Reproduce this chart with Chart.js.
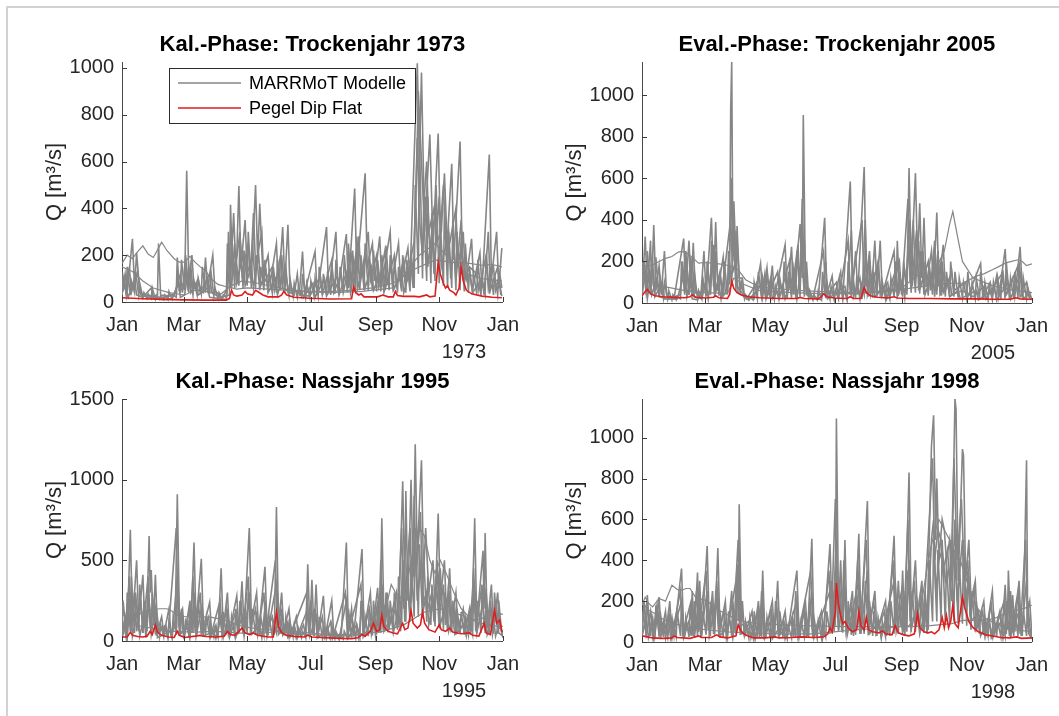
<!DOCTYPE html>
<html>
<head>
<meta charset="utf-8">
<script src="https://cdn.jsdelivr.net/npm/chart.js@4.4.1/dist/chart.umd.min.js"></script>
<style>
  html, body { margin: 0; padding: 0; background: #fff; }
  #figure { position: relative; width: 1059px; height: 716px; overflow: hidden; background: #fff; }
  #frame { position: absolute; left: 6px; top: 6px; width: 1200px; height: 900px; border: 2px solid #d2d2d2; }
  canvas { position: absolute; }
</style>
</head>
<body>
<div id="figure">
  <div id="frame"></div>
  <canvas id="kal1973" width="530" height="360" style="left:0;top:0"></canvas>
  <canvas id="eval2005" width="529" height="360" style="left:530px;top:0"></canvas>
  <canvas id="kal1995" width="530" height="356" style="left:0;top:360px"></canvas>
  <canvas id="eval1998" width="529" height="356" style="left:530px;top:360px"></canvas>
</div>
<script>
// Tagesabfluss je Jahr: [Tag des Jahres, Q in m³/s]
const monthDays = [0, 59, 120, 181, 243, 304, 365];
const monthLabels = ["Jan", "Mar", "May", "Jul", "Sep", "Nov", "Jan"];

// ---- Kal.-Phase 1973 ----
const kal1973_pegel = [[0,18],[20,14],[40,11],[60,9],[80,8],[100,8],[103,15],[105,50],[107,30],[110,25],[115,30],[118,45],[120,35],[125,30],[128,50],[130,45],[135,30],[140,22],[150,22],[153,30],[155,45],[158,30],[165,20],[180,16],[200,13],[220,14],[222,65],[224,40],[227,30],[229,35],[232,22],[245,22],[250,30],[255,22],[260,22],[262,45],[264,28],[270,24],[280,24],[285,22],[292,30],[295,22],[300,25],[303,170],[305,120],[308,80],[310,60],[312,70],[314,50],[318,40],[320,30],[323,60],[325,150],[327,90],[330,50],[335,35],[345,25],[355,20],[364,18]];
const kal1973_slow = [[0,165],[5,200],[10,185],[15,215],[20,240],[25,205],[30,190],[35,230],[38,255],[43,220],[50,185],[55,170],[60,170],[65,195],[70,170],[75,150],[80,135],[85,100],[92,75],[100,65],[110,55],[120,60],[140,55],[160,50],[180,45],[200,45],[220,50],[240,60],[260,80],[280,140],[300,180],[315,170],[333,165],[345,157],[355,160],[364,150]];
const kal1973_mid = [[0,150],[10,130],[20,90],[30,60],[45,40],[60,30],[70,50],[80,45],[95,35],[105,70],[115,90],[130,80],[150,60],[170,45],[200,40],[230,45],[260,60],[285,200],[300,250],[315,180],[330,120],[345,100],[364,90]];
const kal1973_a = [[0,30],[3,120],[5,40],[10,270],[12,60],[14,210],[17,40],[22,30],[30,25],[34,30],[35,250],[37,30],[45,25],[52,40],[53,190],[55,50],[60,60],[62,560],[64,90],[67,200],[69,60],[78,40],[80,190],[82,60],[87,200],[89,50],[95,20],[103,30],[104,415],[106,120],[110,200],[112,495],[114,150],[118,350],[120,120],[125,200],[128,500],[130,180],[132,420],[135,120],[140,200],[142,80],[148,250],[150,60],[154,320],[156,80],[159,330],[161,60],[170,40],[173,215],[175,40],[185,215],[187,30],[196,320],[198,40],[205,300],[207,50],[215,290],[217,60],[223,485],[225,120],[233,550],[235,150],[240,250],[242,90],[247,280],[249,80],[257,300],[259,90],[265,250],[267,80],[274,230],[276,100],[283,1020],[285,600],[287,980],[290,300],[295,715],[298,250],[303,720],[305,300],[308,500],[311,200],[316,590],[318,180],[324,685],[326,200],[330,100],[335,270],[337,80],[343,210],[345,60],[352,630],[354,100],[359,300],[361,60],[364,230]];
const kal1973_b = [[0,60],[2,100],[4,30],[7,150],[9,40],[15,130],[18,30],[25,20],[40,20],[50,30],[56,120],[58,40],[61,200],[63,70],[66,150],[68,50],[73,100],[75,40],[84,120],[86,40],[96,15],[101,60],[102,300],[104,100],[107,380],[109,150],[113,300],[115,120],[121,250],[123,100],[126,380],[128,150],[134,300],[136,80],[144,150],[146,50],[152,200],[154,60],[165,30],[168,120],[170,30],[180,25],[190,110],[192,30],[201,180],[203,40],[210,120],[212,40],[220,200],[222,60],[227,280],[229,100],[236,300],[238,90],[244,200],[246,70],[252,220],[254,80],[261,200],[263,70],[270,180],[272,80],[280,260],[282,500],[284,900],[286,700],[289,400],[292,600],[294,300],[299,400],[301,250],[306,300],[309,550],[312,200],[320,400],[322,150],[327,300],[329,100],[333,150],[340,120],[342,50],[349,200],[351,60],[356,150],[358,50],[362,120],[364,60]];
const kal1973_c = [[0,40],[3,70],[6,20],[12,100],[14,30],[20,20],[28,60],[30,15],[40,10],[48,15],[54,80],[56,20],[60,30],[64,150],[66,40],[71,80],[73,30],[82,60],[84,20],[100,10],[103,150],[105,60],[108,250],[110,80],[116,200],[118,70],[124,150],[126,60],[131,200],[133,70],[138,130],[140,40],[147,100],[149,30],[157,150],[159,40],[172,50],[174,20],[183,80],[185,20],[194,100],[196,25],[206,110],[208,30],[217,150],[219,40],[224,200],[226,60],[231,150],[233,60],[239,150],[241,50],[249,140],[251,40],[258,150],[260,50],[268,130],[270,40],[277,150],[279,60],[281,400],[283,700],[285,350],[288,200],[291,450],[293,150],[297,300],[299,120],[304,450],[306,150],[313,300],[315,100],[318,250],[320,90],[325,350],[327,100],[333,120],[336,40],[345,100],[347,30],[351,300],[353,50],[360,150],[363,30]];
const kal1973_d = [[0,30],[1,110],[4,40],[5,150],[8,30],[9,90],[12,40],[13,130],[16,30],[17,80],[20,20],[21,40],[24,15],[25,35],[28,15],[29,60],[32,12],[33,30],[36,12],[37,25],[40,10],[41,30],[44,10],[45,45],[48,12],[49,30],[52,20],[53,120],[56,40],[57,180],[60,50],[61,150],[64,40],[65,130],[68,30],[69,90],[72,30],[73,100],[76,35],[77,150],[80,40],[81,120],[84,35],[85,140],[88,25],[89,60],[92,15],[93,40],[96,12],[97,30],[100,20],[101,250],[104,60],[105,300],[108,60],[109,200],[112,70],[113,280],[116,60],[117,220],[120,70],[121,300],[124,60],[125,250],[128,60],[129,200],[132,50],[133,150],[136,50],[137,180],[140,40],[141,120],[144,40],[145,150],[148,40],[149,180],[152,50],[153,200],[156,40],[157,120],[160,30],[161,100],[164,25],[165,80],[168,20],[169,60],[172,25],[173,120],[176,20],[177,80],[180,20],[181,90],[184,25],[185,100],[188,25],[189,150],[192,30],[193,120],[196,30],[197,130],[200,30],[201,150],[204,35],[205,180],[208,30],[209,150],[212,40],[213,200],[216,40],[217,250],[220,50],[221,220],[224,50],[225,280],[228,50],[229,200],[232,50],[233,250],[236,50],[237,200],[240,50],[241,220],[244,45],[245,180],[248,45],[249,200],[252,50],[253,240],[256,50],[257,200],[260,45],[261,180],[264,40],[265,150],[268,45],[269,200],[272,40],[273,180],[276,45],[277,220],[280,60],[281,500],[284,120],[285,700],[288,100],[289,400],[292,90],[293,450],[296,80],[297,380],[300,90],[301,500],[304,80],[305,350],[308,70],[309,400],[312,60],[313,300],[316,60],[317,350],[320,50],[321,300],[324,50],[325,280],[328,45],[329,250],[332,40],[333,150],[336,35],[337,120],[340,35],[341,180],[344,30],[345,100],[348,35],[349,200],[352,35],[353,150],[356,30],[357,120],[360,30],[361,100],[364,25]];

// ---- Eval.-Phase 2005 ----
const eval2005_pegel = [[0,35],[3,55],[5,65],[8,45],[12,35],[20,30],[30,27],[40,25],[45,30],[47,40],[50,28],[60,24],[67,28],[69,35],[72,25],[80,22],[82,40],[84,105],[86,70],[89,50],[93,38],[100,30],[110,25],[130,22],[145,22],[148,27],[152,22],[165,20],[168,30],[170,45],[173,30],[180,24],[192,22],[195,30],[198,22],[205,22],[208,75],[210,50],[214,35],[220,28],[230,24],[236,30],[239,24],[250,22],[270,22],[290,20],[310,20],[330,18],[345,18],[350,25],[354,20],[365,18]];
const eval2005_slow = [[0,190],[4,176],[10,184],[16,200],[22,215],[28,224],[34,245],[37,248],[42,240],[48,215],[53,192],[60,195],[65,192],[72,188],[78,184],[84,175],[90,160],[97,112],[103,95],[109,80],[120,72],[135,65],[150,60],[170,55],[190,50],[210,55],[230,60],[250,70],[270,85],[290,95],[300,96],[306,110],[312,128],[320,140],[328,160],[334,175],[340,192],[346,200],[352,208],[356,200],[360,180],[365,188]];
const eval2005_mid = [[0,120],[8,100],[20,80],[40,60],[60,50],[80,45],[86,120],[95,90],[110,60],[140,50],[170,45],[200,45],[240,60],[255,120],[262,150],[270,110],[283,250],[288,380],[291,440],[295,330],[300,200],[310,120],[330,80],[350,60],[365,50]];
const eval2005_a = [[0,40],[3,320],[5,60],[8,300],[9,80],[11,375],[13,60],[16,180],[18,40],[21,250],[23,40],[30,20],[39,310],[41,60],[44,300],[46,70],[48,290],[50,50],[55,30],[58,250],[60,40],[65,410],[67,80],[69,390],[71,60],[76,220],[78,50],[82,100],[83,920],[84,1160],[85,300],[86,490],[88,200],[89,370],[91,120],[94,120],[96,30],[105,20],[111,190],[113,30],[117,170],[119,40],[122,180],[124,30],[134,280],[136,40],[140,270],[142,40],[148,380],[150,120],[151,905],[153,100],[154,200],[156,30],[165,20],[171,410],[173,40],[178,130],[180,30],[186,150],[188,30],[195,585],[197,60],[200,250],[202,40],[208,655],[210,80],[213,250],[215,60],[218,300],[220,60],[223,300],[225,40],[236,250],[238,50],[239,300],[241,60],[246,150],[248,60],[250,650],[252,150],[256,625],[258,200],[260,480],[262,120],[264,410],[266,80],[271,250],[273,80],[276,435],[278,80],[282,280],[284,60],[290,150],[292,60],[303,100],[305,30],[317,190],[319,30],[326,100],[328,30],[332,130],[334,30],[340,260],[342,50],[347,120],[349,30],[354,270],[356,60],[360,100],[362,30],[365,20]];
const eval2005_b = [[0,80],[2,200],[4,50],[7,150],[9,40],[14,120],[16,30],[25,20],[36,40],[38,200],[40,50],[42,180],[44,40],[47,220],[49,30],[56,20],[62,150],[64,40],[67,280],[69,60],[73,150],[75,30],[80,60],[82,250],[84,600],[85,200],[87,350],[89,80],[92,60],[98,20],[110,120],[112,30],[115,140],[117,30],[127,150],[129,30],[138,200],[140,40],[146,280],[148,60],[150,500],[152,80],[160,25],[170,250],[172,30],[182,100],[184,25],[193,300],[195,40],[206,400],[208,60],[212,200],[214,40],[221,200],[223,40],[230,100],[232,30],[241,200],[243,40],[249,500],[251,100],[254,400],[256,90],[259,300],[261,80],[268,200],[270,60],[274,300],[276,60],[280,200],[282,50],[288,120],[290,40],[300,60],[310,30],[320,80],[322,20],[338,150],[340,30],[352,180],[354,30],[358,60],[365,15]];
const eval2005_c = [[0,30],[3,150],[5,20],[10,200],[12,30],[19,100],[21,20],[33,20],[40,150],[42,30],[45,120],[47,20],[52,15],[60,100],[62,20],[66,200],[68,40],[72,90],[74,20],[83,400],[85,150],[88,200],[90,50],[100,15],[114,100],[116,20],[120,110],[122,20],[132,90],[134,20],[143,150],[145,20],[152,300],[154,40],[168,15],[172,200],[174,20],[190,80],[192,15],[196,350],[198,30],[204,120],[206,20],[209,400],[211,40],[216,150],[218,30],[227,80],[229,20],[237,150],[239,30],[244,100],[246,25],[251,400],[253,80],[257,350],[259,60],[263,250],[265,40],[272,150],[274,30],[277,250],[279,40],[286,100],[288,30],[296,60],[298,20],[313,60],[315,15],[330,70],[332,15],[343,100],[345,20],[355,150],[357,20],[363,50],[365,15]];
const eval2005_d = [[0,40],[1,200],[4,40],[5,250],[8,40],[9,180],[12,35],[13,220],[16,30],[17,120],[20,25],[21,100],[24,20],[25,60],[28,15],[29,40],[32,15],[33,30],[36,20],[37,200],[40,40],[41,250],[44,40],[45,220],[48,35],[49,150],[52,20],[53,60],[56,20],[57,120],[60,30],[61,200],[64,40],[65,300],[68,40],[69,250],[72,35],[73,150],[76,30],[77,200],[80,40],[81,250],[84,80],[85,400],[88,60],[89,300],[92,40],[93,100],[96,20],[97,40],[100,15],[101,30],[104,15],[105,100],[108,20],[109,150],[112,25],[113,120],[116,20],[117,150],[120,25],[121,130],[124,20],[125,80],[128,20],[129,120],[132,25],[133,200],[136,20],[137,150],[140,25],[141,200],[144,25],[145,250],[148,30],[149,300],[152,30],[153,150],[156,20],[157,60],[160,15],[161,40],[164,15],[165,60],[168,20],[169,150],[172,25],[173,100],[176,20],[177,80],[180,15],[181,60],[184,20],[185,120],[188,15],[189,60],[192,20],[193,200],[196,30],[197,150],[200,25],[201,120],[204,20],[205,100],[208,40],[209,250],[212,30],[213,200],[216,25],[217,150],[220,30],[221,200],[224,25],[225,100],[228,20],[229,80],[232,20],[233,120],[236,30],[237,200],[240,35],[241,150],[244,30],[245,200],[248,40],[249,300],[252,50],[253,250],[256,50],[257,300],[260,45],[261,250],[264,40],[265,200],[268,35],[269,180],[272,40],[273,220],[276,40],[277,250],[280,35],[281,200],[284,30],[285,150],[288,30],[289,200],[292,30],[293,150],[296,25],[297,120],[300,25],[301,100],[304,20],[305,150],[308,20],[309,100],[312,20],[313,120],[316,20],[317,150],[320,20],[321,100],[324,15],[325,80],[328,15],[329,100],[332,20],[333,120],[336,20],[337,150],[340,25],[341,200],[344,20],[345,120],[348,20],[349,150],[352,25],[353,200],[356,25],[357,120],[360,20],[361,80],[364,15]];

// ---- Kal.-Phase 1995 ----
const kal1995_pegel = [[0,25],[5,25],[8,55],[10,35],[15,28],[20,25],[24,30],[27,60],[29,40],[32,100],[34,55],[38,35],[45,25],[50,22],[53,60],[55,35],[60,22],[70,30],[75,35],[80,28],[90,25],[98,30],[101,60],[104,40],[108,35],[112,60],[115,80],[118,50],[122,40],[126,50],[130,35],[140,25],[145,25],[148,180],[150,90],[153,50],[158,35],[165,28],[175,25],[178,35],[182,25],[195,20],[210,16],[220,15],[226,20],[230,40],[233,30],[238,60],[241,110],[244,60],[247,70],[249,160],[251,90],[255,60],[260,50],[264,45],[269,110],[271,70],[274,80],[277,190],[279,110],[283,80],[286,100],[288,180],[290,110],[294,70],[300,55],[304,100],[306,70],[310,60],[314,80],[317,55],[325,45],[333,50],[336,35],[342,30],[347,110],[349,50],[353,40],[357,190],[359,110],[362,130],[364,60],[365,60]];
const kal1995_slow = [[0,160],[6,155],[12,150],[18,170],[24,190],[30,195],[36,200],[43,200],[48,185],[53,160],[60,152],[65,150],[75,150],[85,148],[91,140],[98,130],[104,118],[110,100],[118,87],[130,75],[150,65],[170,55],[190,45],[210,40],[230,45],[250,60],[270,100],[290,180],[305,200],[315,180],[325,160],[333,140],[340,130],[345,140],[349,150],[355,165],[362,170],[365,165]];
const kal1995_mid = [[0,110],[10,100],[20,90],[35,70],[50,60],[70,55],[90,60],[110,50],[130,45],[150,60],[160,50],[180,40],[200,35],[220,30],[235,50],[250,120],[258,350],[262,300],[270,250],[280,600],[285,700],[290,650],[295,500],[300,420],[305,500],[310,430],[318,300],[325,200],[335,130],[350,100],[365,90]];
const kal1995_a = [[0,50],[3,150],[5,40],[8,690],[10,100],[14,500],[16,120],[20,410],[22,80],[24,200],[26,650],[27,300],[28,440],[30,100],[32,410],[34,60],[38,150],[40,40],[45,200],[47,40],[51,100],[53,910],[55,150],[58,200],[60,40],[64,200],[66,50],[69,610],[71,100],[76,510],[78,80],[84,240],[86,40],[90,100],[92,30],[95,450],[97,60],[101,300],[103,50],[110,280],[112,60],[115,370],[117,80],[122,700],[124,120],[129,300],[131,60],[137,460],[139,70],[144,150],[146,40],[148,830],[150,100],[153,300],[155,60],[160,200],[162,40],[167,150],[169,30],[174,100],[176,30],[178,475],[180,80],[182,380],[184,60],[186,350],[188,50],[193,280],[195,40],[201,250],[203,30],[210,20],[215,610],[217,50],[220,200],[222,30],[230,570],[232,60],[238,300],[240,60],[245,330],[247,80],[249,760],[251,150],[254,300],[256,100],[263,300],[265,100],[269,990],[271,300],[272,930],[274,250],[277,1000],[279,400],[281,1220],[283,500],[285,840],[287,1120],[289,400],[291,700],[294,300],[298,500],[300,200],[303,790],[305,250],[309,500],[311,150],[314,450],[316,120],[320,300],[322,80],[327,200],[329,60],[333,200],[335,60],[338,760],[340,100],[346,560],[347,200],[348,670],[350,80],[354,350],[356,60],[360,300],[362,80],[365,50]];
const kal1995_b = [[0,30],[2,100],[4,20],[7,400],[9,60],[12,300],[14,60],[18,250],[20,50],[25,400],[27,80],[31,250],[33,40],[42,100],[44,20],[52,700],[54,100],[57,150],[59,30],[63,120],[65,30],[68,400],[70,60],[75,300],[77,50],[83,150],[85,30],[94,250],[96,40],[100,200],[102,40],[109,180],[111,40],[114,250],[116,50],[121,400],[123,70],[128,200],[130,40],[136,300],[138,50],[147,500],[149,80],[152,200],[154,40],[159,120],[161,30],[177,300],[179,50],[181,250],[183,40],[185,200],[187,30],[192,150],[194,20],[200,120],[202,20],[214,300],[216,30],[229,350],[231,40],[237,200],[239,40],[244,200],[246,50],[248,500],[250,100],[253,200],[255,70],[262,200],[264,70],[268,700],[270,200],[276,700],[278,300],[280,900],[282,400],[286,800],[288,300],[293,200],[297,300],[299,120],[302,500],[304,150],[308,350],[310,100],[313,300],[315,80],[319,200],[321,50],[332,150],[334,40],[337,450],[339,60],[345,350],[347,100],[353,200],[355,40],[359,200],[361,50],[365,30]];
const kal1995_c = [[0,20],[3,80],[5,15],[8,300],[10,30],[15,200],[17,30],[21,150],[23,20],[26,250],[28,40],[32,200],[34,20],[46,60],[48,15],[53,400],[55,40],[63,80],[65,15],[69,250],[71,30],[76,200],[78,30],[88,60],[90,15],[95,150],[97,20],[101,120],[103,20],[107,100],[109,20],[115,150],[117,30],[122,300],[124,40],[132,100],[134,20],[137,200],[139,30],[148,350],[150,40],[157,100],[159,20],[165,60],[167,15],[178,200],[180,30],[186,150],[188,20],[197,80],[199,15],[206,40],[208,10],[215,250],[217,20],[225,100],[227,15],[230,250],[232,30],[241,150],[243,30],[249,350],[251,60],[258,150],[260,50],[265,200],[267,60],[269,500],[271,120],[274,400],[276,150],[281,600],[283,250],[287,500],[289,200],[292,300],[294,100],[303,400],[305,100],[311,250],[313,60],[317,150],[319,40],[328,100],[330,30],[338,350],[340,50],[348,300],[350,40],[356,150],[358,30],[362,120],[365,20]];
const kal1995_d = [[0,40],[1,250],[4,50],[5,300],[8,60],[9,400],[12,50],[13,300],[16,60],[17,350],[20,50],[21,250],[24,60],[25,350],[28,50],[29,300],[32,40],[33,200],[36,30],[37,100],[40,25],[41,80],[44,25],[45,120],[48,30],[49,150],[52,40],[53,400],[56,40],[57,200],[60,30],[61,120],[64,40],[65,250],[68,50],[69,300],[72,40],[73,250],[76,40],[77,200],[80,35],[81,150],[84,30],[85,100],[88,25],[89,80],[92,30],[93,200],[96,35],[97,180],[100,40],[101,200],[104,35],[105,150],[108,40],[109,200],[112,45],[113,250],[116,45],[117,200],[120,50],[121,300],[124,45],[125,200],[128,40],[129,180],[132,35],[133,150],[136,40],[137,250],[140,35],[141,150],[144,30],[145,120],[148,50],[149,300],[152,45],[153,200],[156,35],[157,150],[160,30],[161,120],[164,25],[165,100],[168,25],[169,80],[172,20],[173,60],[176,25],[177,200],[180,30],[181,250],[184,30],[185,200],[188,25],[189,150],[192,20],[193,100],[196,20],[197,80],[200,15],[201,100],[204,15],[205,60],[208,12],[209,40],[212,12],[213,60],[216,20],[217,200],[220,20],[221,120],[224,20],[225,100],[228,25],[229,250],[232,30],[233,150],[236,30],[237,200],[240,35],[241,250],[244,40],[245,250],[248,50],[249,350],[252,60],[253,300],[256,70],[257,250],[260,70],[261,300],[264,80],[265,400],[268,100],[269,500],[272,120],[273,450],[276,120],[277,500],[280,150],[281,700],[284,150],[285,600],[288,140],[289,550],[292,120],[293,400],[296,100],[297,350],[300,90],[301,400],[304,80],[305,450],[308,70],[309,300],[312,60],[313,350],[316,55],[317,250],[320,50],[321,200],[324,45],[325,180],[328,40],[329,150],[332,40],[333,150],[336,45],[337,300],[340,45],[341,250],[344,50],[345,300],[348,50],[349,300],[352,45],[353,250],[356,45],[357,300],[360,45],[361,250],[364,40]];

// ---- Eval.-Phase 1998 ----
const eval1998_pegel = [[0,30],[5,25],[10,20],[20,18],[28,20],[30,30],[33,22],[45,18],[53,30],[56,22],[65,22],[70,35],[73,25],[80,20],[88,30],[90,85],[92,60],[95,40],[100,28],[105,20],[115,20],[125,25],[128,20],[140,22],[150,25],[160,22],[170,25],[174,40],[176,70],[178,50],[181,150],[182,290],[184,180],[186,130],[188,90],[190,100],[193,70],[197,50],[201,60],[203,150],[205,80],[208,60],[210,120],[212,60],[216,50],[222,45],[225,55],[228,40],[234,35],[237,80],[240,45],[245,35],[250,30],[255,40],[258,140],[260,70],[264,50],[268,45],[271,50],[274,40],[278,60],[281,120],[283,70],[285,130],[287,70],[289,100],[291,180],[293,90],[296,70],[300,220],[302,170],[306,100],[310,70],[315,50],[322,35],[330,28],[338,20],[340,22],[343,20],[351,25],[355,18],[365,20]];
const eval1998_slow = [[0,180],[3,220],[6,190],[10,172],[16,213],[22,200],[28,278],[34,254],[38,255],[41,262],[45,262],[50,220],[55,210],[59,205],[66,180],[72,155],[78,140],[84,123],[90,110],[97,98],[110,90],[130,85],[150,80],[170,78],[190,75],[210,75],[230,75],[250,75],[270,80],[290,90],[300,106],[320,106],[330,115],[340,140],[350,155],[358,165],[365,180]];
const eval1998_mid = [[0,200],[5,160],[12,140],[20,110],[30,90],[45,70],[60,60],[80,50],[100,45],[130,40],[160,40],[180,50],[200,60],[230,70],[250,80],[262,200],[268,400],[272,500],[278,600],[283,550],[288,500],[292,450],[298,400],[304,300],[310,200],[320,120],[335,80],[350,60],[365,50]];
const eval1998_a = [[0,30],[3,100],[5,230],[7,50],[10,120],[12,30],[16,220],[18,40],[22,150],[24,30],[28,120],[30,30],[37,360],[39,50],[44,100],[46,30],[47,250],[49,40],[52,340],[53,80],[54,300],[56,40],[61,470],[63,80],[66,250],[68,50],[71,460],[73,60],[78,200],[80,30],[84,250],[86,50],[89,380],[90,100],[91,675],[93,100],[94,200],[96,30],[103,150],[105,30],[109,200],[111,30],[113,350],[115,40],[122,200],[124,30],[127,300],[129,40],[134,150],[136,30],[145,350],[147,40],[153,200],[155,30],[159,505],[161,40],[168,150],[170,30],[176,480],[178,100],[180,250],[181,80],[182,1095],[184,150],[186,400],[188,80],[190,500],[192,60],[197,250],[199,50],[203,530],[205,80],[211,690],[213,70],[218,250],[220,50],[228,200],[230,40],[236,520],[238,100],[240,300],[242,80],[244,350],[246,60],[250,830],[252,150],[256,400],[258,120],[262,300],[264,80],[265,250],[267,100],[271,960],[273,1110],[275,500],[276,800],[278,400],[281,600],[283,550],[285,400],[288,500],[290,300],[293,1190],[294,1140],[296,300],[298,600],[300,945],[301,910],[303,300],[306,500],[308,200],[312,300],[314,80],[320,200],[322,40],[328,250],[330,50],[335,150],[337,40],[340,280],[342,60],[343,350],[345,80],[347,230],[349,50],[353,300],[355,60],[357,100],[360,890],[361,150],[363,200],[365,30]];
const eval1998_b = [[0,50],[2,200],[4,40],[8,150],[10,30],[14,180],[16,40],[20,100],[22,20],[26,200],[28,30],[36,250],[38,40],[46,200],[48,30],[51,250],[53,50],[60,350],[62,60],[65,200],[67,40],[70,300],[72,50],[77,150],[79,20],[88,300],[90,500],[92,80],[100,100],[102,20],[108,150],[110,25],[112,250],[114,30],[121,150],[123,20],[126,200],[128,30],[140,100],[142,20],[144,250],[146,30],[158,350],[160,30],[167,100],[169,20],[175,350],[177,60],[181,700],[183,120],[185,300],[187,50],[189,400],[191,50],[196,180],[198,30],[202,400],[204,60],[210,500],[212,60],[217,200],[219,40],[227,150],[229,30],[235,400],[237,80],[243,250],[245,50],[249,600],[251,100],[255,300],[257,80],[261,250],[263,60],[270,700],[272,900],[274,400],[277,550],[280,500],[282,350],[286,450],[289,250],[292,900],[295,400],[299,700],[302,300],[305,400],[307,150],[311,250],[313,60],[319,150],[321,30],[327,180],[329,30],[339,200],[341,40],[344,250],[346,50],[352,250],[354,40],[359,500],[361,80],[365,20]];
const eval1998_c = [[0,30],[4,120],[6,20],[9,80],[11,15],[15,150],[17,25],[25,100],[27,15],[37,200],[39,20],[47,150],[49,20],[53,200],[55,20],[61,250],[63,30],[71,250],[73,30],[83,100],[85,20],[89,200],[91,400],[93,40],[104,80],[106,15],[113,200],[115,20],[120,100],[122,15],[132,100],[134,15],[145,200],[147,20],[152,150],[154,20],[159,250],[161,20],[176,250],[178,40],[182,500],[184,60],[190,250],[192,30],[203,300],[205,40],[211,350],[213,40],[222,100],[224,20],[236,300],[238,50],[244,200],[246,30],[250,400],[252,60],[258,200],[260,40],[265,150],[267,40],[271,500],[273,600],[275,250],[278,400],[281,450],[284,300],[287,350],[290,200],[293,600],[295,200],[300,500],[302,200],[306,300],[308,100],[315,150],[317,30],[325,120],[327,20],[336,100],[338,20],[343,200],[345,30],[353,150],[355,30],[360,300],[362,40],[365,15]];
const eval1998_d = [[0,30],[1,150],[4,30],[5,200],[8,30],[9,120],[12,25],[13,180],[16,30],[17,150],[20,25],[21,100],[24,25],[25,150],[28,30],[29,100],[32,25],[33,150],[36,30],[37,200],[40,25],[41,120],[44,25],[45,180],[48,30],[49,200],[52,30],[53,250],[56,30],[57,150],[60,35],[61,250],[64,30],[65,200],[68,35],[69,250],[72,30],[73,150],[76,25],[77,120],[80,25],[81,150],[84,30],[85,200],[88,40],[89,300],[92,35],[93,200],[96,25],[97,100],[100,20],[101,120],[104,25],[105,150],[108,25],[109,180],[112,25],[113,200],[116,20],[117,120],[120,20],[121,150],[124,25],[125,200],[128,20],[129,150],[132,20],[133,100],[136,20],[137,80],[140,20],[141,120],[144,25],[145,200],[148,20],[149,100],[152,25],[153,150],[156,20],[157,200],[160,20],[161,120],[164,20],[165,100],[168,20],[169,80],[172,25],[173,150],[176,40],[177,300],[180,50],[181,350],[184,50],[185,250],[188,45],[189,300],[192,40],[193,200],[196,35],[197,150],[200,35],[201,250],[204,40],[205,200],[208,40],[209,300],[212,35],[213,200],[216,30],[217,150],[220,30],[221,120],[224,25],[225,100],[228,25],[229,150],[232,30],[233,200],[236,40],[237,300],[240,40],[241,200],[244,40],[245,250],[248,50],[249,350],[252,50],[253,250],[256,50],[257,200],[260,45],[261,200],[264,45],[265,150],[268,60],[269,400],[272,100],[273,500],[276,100],[277,450],[280,100],[281,500],[284,90],[285,400],[288,90],[289,500],[292,100],[293,450],[296,90],[297,400],[300,90],[301,500],[304,80],[305,350],[308,60],[309,250],[312,50],[313,200],[316,40],[317,150],[320,35],[321,120],[324,30],[325,100],[328,30],[329,150],[332,25],[333,100],[336,25],[337,120],[340,30],[341,200],[344,30],[345,250],[348,30],[349,150],[352,30],[353,200],[356,30],[357,150],[360,30],[361,200],[364,25]];

const FONT = '"Liberation Sans", Arial, sans-serif';
const GREY = "#868686";
const RED = "#dc1f1f";
Chart.defaults.font.family = FONT;
Chart.defaults.color = "#262626";

// Titel, Achsenbeschriftung, Jahreszahl, Legende und nach innen zeigende Ticks
const axesDecor = {
  id: "axesDecor",
  afterDraw(chart, args, opts) {
    const { ctx, chartArea: a } = chart;
    const xs = chart.scales.x, ys = chart.scales.y;
    ctx.save();
    ctx.strokeStyle = "#3a3a3a";
    ctx.lineWidth = 1;
    ctx.beginPath();
    xs.ticks.forEach(t => {
      const px = Math.round(xs.getPixelForValue(t.value)) + 0.5;
      ctx.moveTo(px, a.bottom);
      ctx.lineTo(px, a.bottom - 5);
    });
    ys.ticks.forEach(t => {
      const py = Math.round(ys.getPixelForValue(t.value)) + 0.5;
      ctx.moveTo(a.left, py);
      ctx.lineTo(a.left + 5, py);
    });
    ctx.stroke();

    ctx.textAlign = "center";
    ctx.textBaseline = "middle";
    ctx.fillStyle = "#000";
    ctx.font = "bold 22px " + FONT;
    ctx.fillText(opts.title, (a.left + a.right) / 2, a.top - 17);

    ctx.fillStyle = "#262626";
    ctx.save();
    ctx.translate(a.left - 67, (a.top + a.bottom) / 2);
    ctx.rotate(-Math.PI / 2);
    ctx.font = "22px " + FONT;
    ctx.fillText("Q [m³/s]", 0, 0);
    ctx.restore();

    ctx.font = "20px " + FONT;
    ctx.fillText(opts.year, a.right - 39, a.bottom + 50);

    if (opts.legend) {
      const bx = a.left + 47, by = a.top + 6, bw = 246, bh = 55;
      ctx.fillStyle = "#fff";
      ctx.fillRect(bx, by, bw, bh);
      ctx.strokeStyle = "#2b2b2b";
      ctx.strokeRect(bx + 0.5, by + 0.5, bw, bh);
      const rows = [["MARRMoT Modelle", GREY], ["Pegel Dip Flat", RED]];
      ctx.textAlign = "left";
      ctx.font = "18px " + FONT;
      rows.forEach(([label, col], i) => {
        const ly = by + 15 + i * 25;
        ctx.strokeStyle = col;
        ctx.lineWidth = 1.5;
        ctx.beginPath();
        ctx.moveTo(bx + 9, ly);
        ctx.lineTo(bx + 72, ly);
        ctx.stroke();
        ctx.fillStyle = "#000";
        ctx.fillText(label, bx + 80, ly + 1);
      });
    }
    ctx.restore();
  }
};

// träge Modelle dünn, stark reagierende Modelle etwas kräftiger
function modelSet(data, i) {
  return { data, borderColor: GREY, borderWidth: i < 2 ? 1.2 : 1.6, pointRadius: 0, tension: 0 };
}

function makePanel(id, p) {
  const canvas = document.getElementById(id);
  const W = canvas.width, H = canvas.height;
  new Chart(canvas, {
    type: "line",
    data: {
      datasets: [
        { data: p.pegel, borderColor: RED, borderWidth: 1.6, pointRadius: 0, tension: 0 },
        ...p.models.map(modelSet),
      ],
    },
    options: {
      responsive: false,
      animation: false,
      devicePixelRatio: 1,
      layout: { autoPadding: false, padding: { top: p.area.top, right: W - p.area.right, left: 0, bottom: 0 } },
      plugins: {
        legend: { display: false },
        tooltip: { enabled: false },
        axesDecor: { title: p.title, year: p.year, legend: !!p.legend },
      },
      scales: {
        x: {
          type: "linear",
          min: 0,
          max: 365,
          grid: { display: false, drawTicks: false },
          border: { display: true, color: "#4a4a4a", width: 1 },
          ticks: { padding: 11, font: { size: 20 }, maxRotation: 0, callback: v => monthLabels[monthDays.indexOf(v)] },
          afterBuildTicks: s => { s.ticks = monthDays.map(v => ({ value: v })); },
          afterFit: s => { s.height = H - p.area.bottom; },
        },
        y: {
          min: 0,
          max: p.yMax,
          grid: { display: false, drawTicks: false },
          border: { display: true, color: "#4a4a4a", width: 1 },
          ticks: { padding: 8, font: { size: 20 }, callback: v => String(v) },
          afterBuildTicks: s => { s.ticks = p.yTicks.map(v => ({ value: v })); },
          afterFit: s => { s.width = p.area.left; },
        },
      },
    },
    plugins: [axesDecor],
  });
}

makePanel("kal1973", {
  title: "Kal.-Phase: Trockenjahr 1973", year: "1973", legend: true,
  pegel: kal1973_pegel,
  models: [kal1973_slow, kal1973_mid, kal1973_a, kal1973_b, kal1973_c, kal1973_d],
  yMax: 1025, yTicks: [0, 200, 400, 600, 800, 1000],
  area: { left: 122, right: 517, top: 62, bottom: 302 },
});
makePanel("eval2005", {
  title: "Eval.-Phase: Trockenjahr 2005", year: "2005",
  pegel: eval2005_pegel,
  models: [eval2005_slow, eval2005_mid, eval2005_a, eval2005_b, eval2005_c, eval2005_d],
  yMax: 1160, yTicks: [0, 200, 400, 600, 800, 1000],
  area: { left: 112, right: 507, top: 62, bottom: 303 },
});
makePanel("kal1995", {
  title: "Kal.-Phase: Nassjahr 1995", year: "1995",
  pegel: kal1995_pegel,
  models: [kal1995_slow, kal1995_mid, kal1995_a, kal1995_b, kal1995_c, kal1995_d],
  yMax: 1500, yTicks: [0, 500, 1000, 1500],
  area: { left: 122, right: 517, top: 39, bottom: 281 },
});
makePanel("eval1998", {
  title: "Eval.-Phase: Nassjahr 1998", year: "1998",
  pegel: eval1998_pegel,
  models: [eval1998_slow, eval1998_mid, eval1998_a, eval1998_b, eval1998_c, eval1998_d],
  yMax: 1190, yTicks: [0, 200, 400, 600, 800, 1000],
  area: { left: 112, right: 507, top: 39, bottom: 282 },
});
</script>
</body>
</html>
